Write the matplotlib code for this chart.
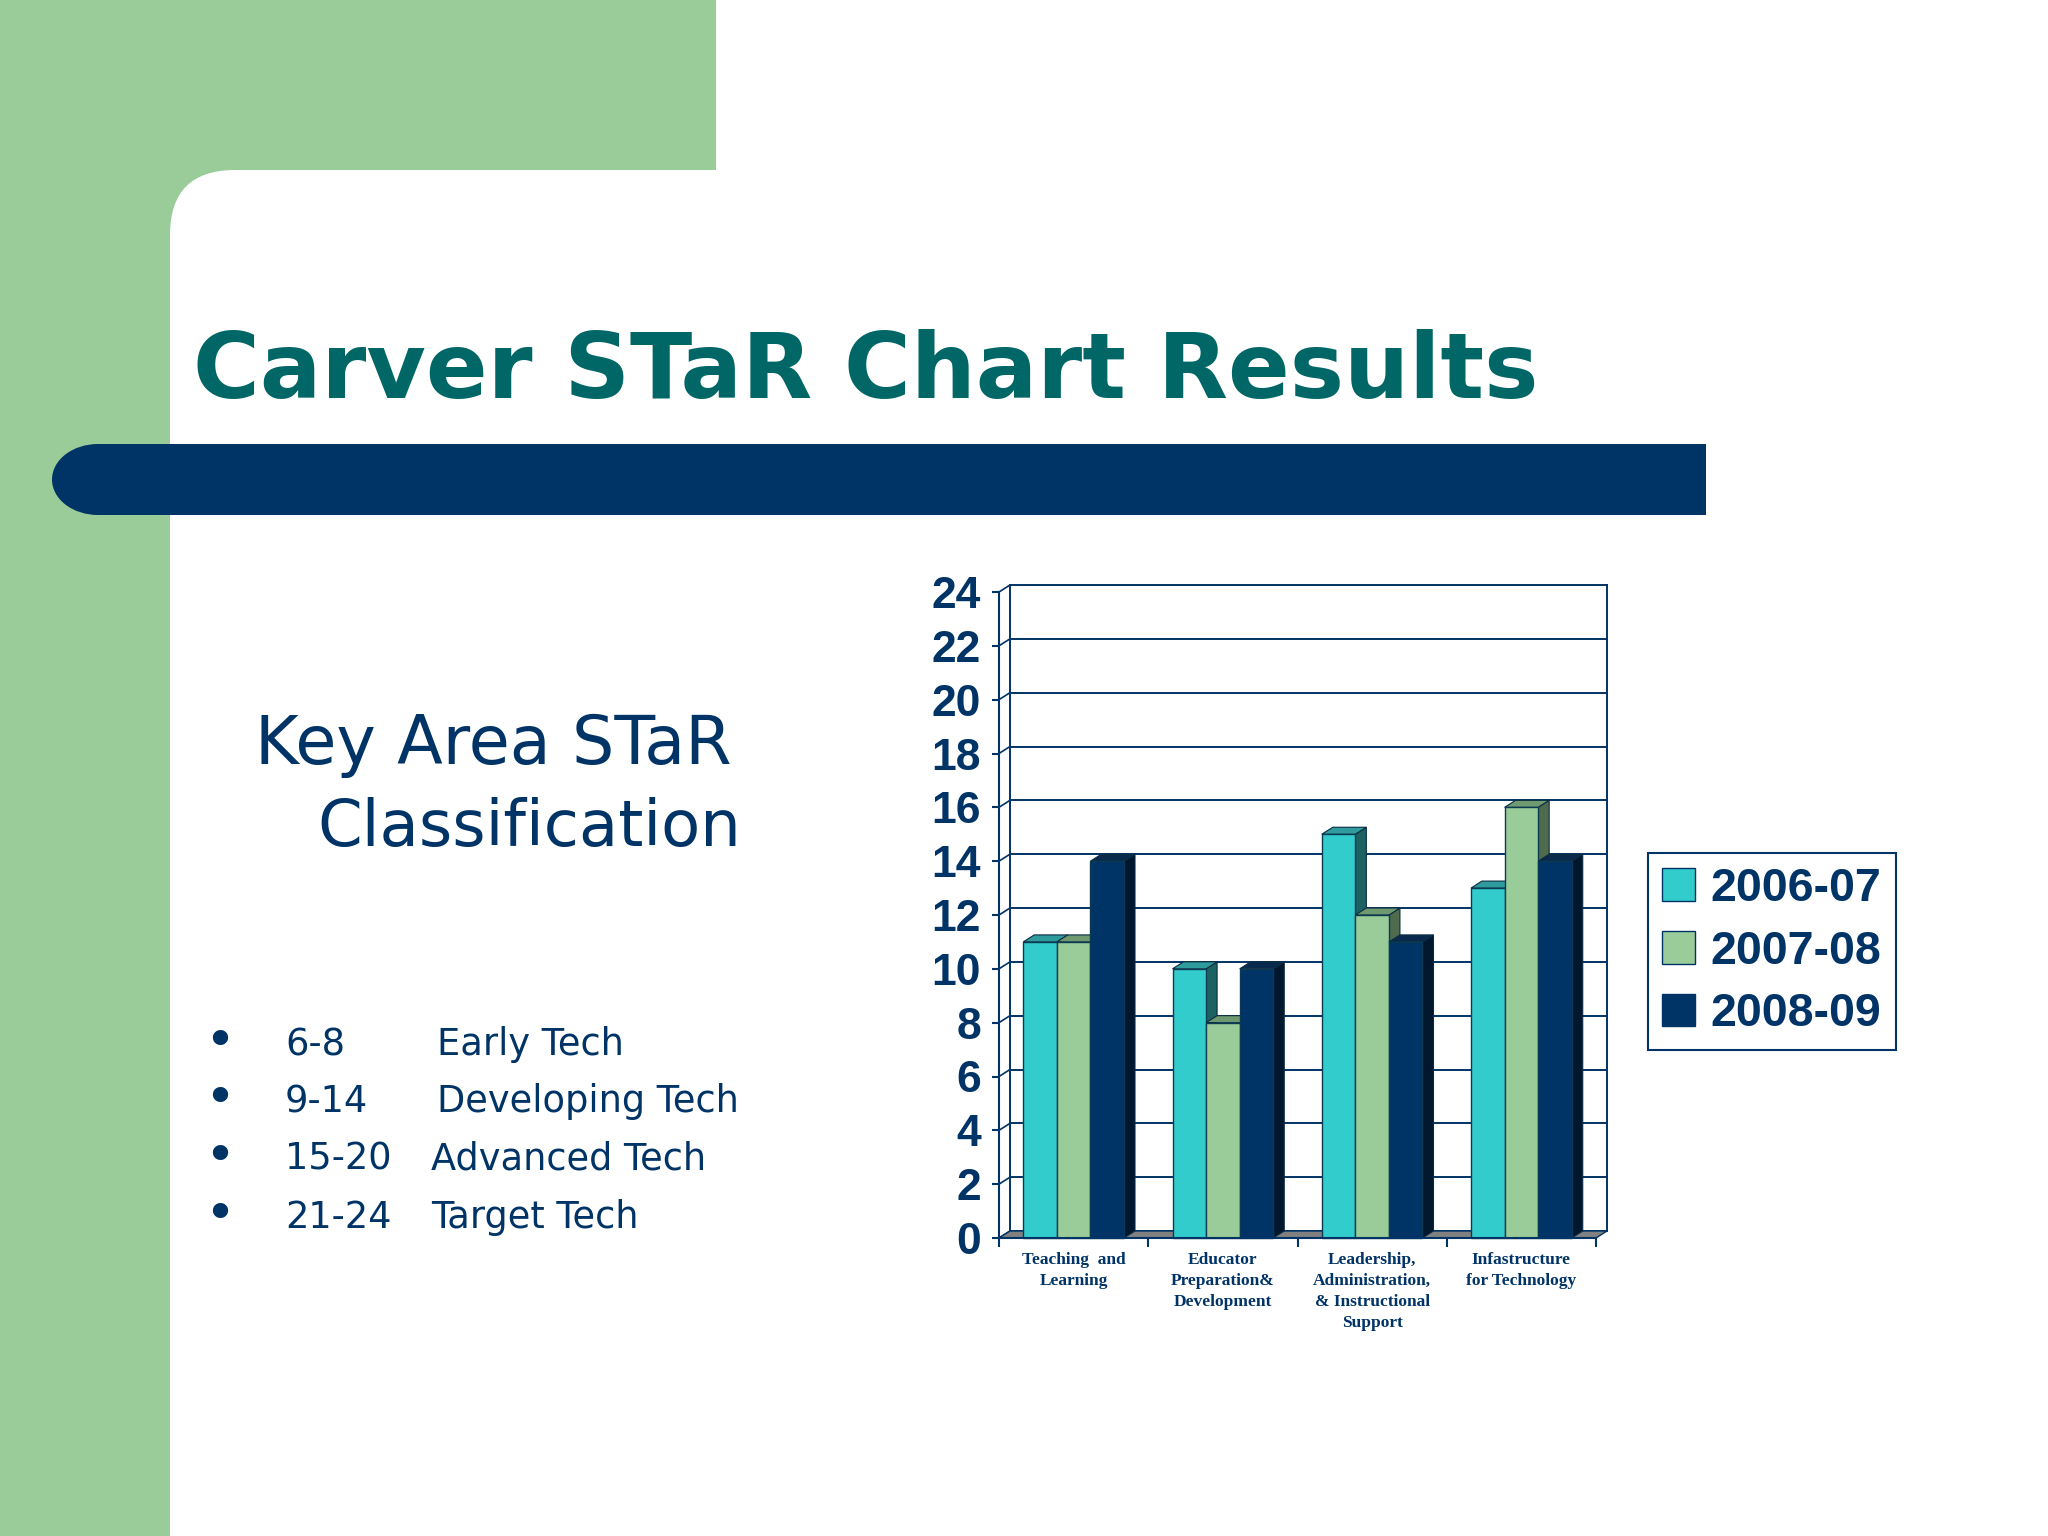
import matplotlib
matplotlib.use("Agg")
import matplotlib.pyplot as plt
from matplotlib.patches import Rectangle, FancyBboxPatch, Ellipse, Polygon, Patch

# chart data
categories = ["Teaching  and\nLearning",
              "Educator\nPreparation&\nDevelopment",
              "Leadership,\nAdministration,\n& Instructional\nSupport",
              "Infastructure\nfor Technology"]
years = ["2006-07", "2007-08", "2008-09"]
scores_0607 = [11, 10, 15, 13]
scores_0708 = [11, 8, 12, 16]
scores_0809 = [14, 10, 11, 14]
y_ticks = list(range(0, 25, 2))

# slide text
title = "Carver STaR Chart Results"
key_lines = ["Key Area STaR", "Classification"]
bullet_ranges = ["6-8", "9-14", "15-20", "21-24"]
bullet_names = ["Early Tech", "Developing Tech", "Advanced Tech", "Target Tech"]

NAVY = "#003366"
TEAL = "#006666"
GREEN = "#99CC99"
CYAN = "#33CCCC"
front_cols = [CYAN, GREEN, NAVY]
top_cols = ["#2E9C9C", "#6F9A6F", "#0A2A4D"]
side_cols = ["#1C6262", "#4E6B4E", "#00172E"]

plt.rcParams['font.family'] = ['DejaVu Sans']

W, H = 2048, 1536
fig = plt.figure(figsize=(W / 100, H / 100), dpi=100)
renderer = fig.canvas.get_renderer()


def fit(t, width):
    w = t.get_window_extent(renderer).width
    t.set_fontsize(t.get_fontsize() * width / w)


# slide background in pixel coordinates
bg = fig.add_axes([0, 0, 1, 1])
bg.set_xlim(0, W)
bg.set_ylim(H, 0)
bg.axis('off')
bg.add_patch(Rectangle((0, 0), 716, 300, color=GREEN, lw=0))
bg.add_patch(Rectangle((0, 0), 170, H, color=GREEN, lw=0))
bg.add_patch(FancyBboxPatch((170, 170), 2100, 1600,
                            boxstyle="round,pad=0,rounding_size=65",
                            fc='white', ec='none'))
bg.add_patch(Ellipse((98, 479.5), 92, 71, color=NAVY, lw=0))
bg.add_patch(Rectangle((98, 444), 1608, 71, color=NAVY, lw=0))

t = bg.text(193, 398, title, fontsize=60, fontweight='bold', color=TEAL,
            va='baseline', ha='left')
fit(t, 1348)

t1 = bg.text(255, 764, key_lines[0], fontsize=42, color=NAVY, va='baseline')
fit(t1, 477)
t2 = bg.text(317, 846, key_lines[1], fontsize=42, color=NAVY, va='baseline')
fit(t2, 424)

for k, (rng, name) in enumerate(zip(bullet_ranges, bullet_names)):
    yb = 1055 + k * 57.5
    bg.text(204, yb + 2, "\u2022", fontsize=38, color=NAVY, va='baseline')
    bg.text(285, yb, rng, fontsize=26.5, color=NAVY, va='baseline')
    bg.text(437 if k < 2 else 431, yb, name, fontsize=26.5, color=NAVY,
            va='baseline')

# 3d-looking column chart
ax = fig.add_axes([999 / W, 1 - 1238 / H, 597 / W, 646 / H])
ax.set_xlim(0, 4)
ax.set_ylim(0, 24)
ax.patch.set_visible(False)
dx = 11 / (597 / 4)
dy = 7 / (646 / 24)

# back wall, side wall links and floor
for v in y_ticks:
    ax.plot([dx, 4 + dx], [v + dy, v + dy], color=NAVY, lw=1.4,
            zorder=1, clip_on=False)
    ax.plot([0, dx], [v, v + dy], color=NAVY, lw=1.2, zorder=1, clip_on=False)
ax.plot([dx, dx], [dy, 24 + dy], color=NAVY, lw=1.4, zorder=1, clip_on=False)
ax.plot([4 + dx, 4 + dx], [dy, 24 + dy], color=NAVY, lw=1.4, zorder=1,
        clip_on=False)
ax.add_patch(Polygon([(0, 0), (4, 0), (4 + dx, dy), (dx, dy)],
                     closed=True, fc='#808080', ec=NAVY, lw=1, zorder=2,
                     clip_on=False))

series = [scores_0607, scores_0708, scores_0809]
bw = 0.225
for i in range(len(categories)):
    for j, vals in enumerate(series):
        h = vals[i]
        x0 = i + 0.5 + (j - 1) * bw
        l, r = x0 - bw / 2, x0 + bw / 2
        z = 3 + (i * 3 + j) * 0.01
        ax.add_patch(Polygon([(r, 0), (r + dx, dy), (r + dx, h + dy), (r, h)],
                             closed=True, fc=side_cols[j], ec='#0B2C44',
                             lw=0.8, zorder=z, clip_on=False))
        ax.add_patch(Polygon([(l, h), (r, h), (r + dx, h + dy), (l + dx, h + dy)],
                             closed=True, fc=top_cols[j], ec='#0B2C44',
                             lw=0.8, zorder=z, clip_on=False))
        ax.bar(x0, h, bw, color=front_cols[j], edgecolor='#0B3A55', lw=1,
               zorder=z + 0.005, clip_on=False)

for s in ['top', 'right']:
    ax.spines[s].set_visible(False)
for s in ['left', 'bottom']:
    ax.spines[s].set_color(NAVY)
    ax.spines[s].set_linewidth(1.5)
    ax.spines[s].set_zorder(4)

ax.set_yticks(y_ticks)
ax.set_yticklabels([str(v) for v in y_ticks], fontsize=32, fontweight='bold',
                   family='Liberation Sans', color=NAVY)
ax.tick_params(axis='y', length=5, width=1.5, color=NAVY, pad=8)
ax.set_xticks(range(len(categories) + 1))
ax.set_xticklabels([])
ax.tick_params(axis='x', length=6.5, width=1.5, color=NAVY)

for i, cat in enumerate(categories):
    ax.annotate(cat, xy=(i + 0.5, 0), xytext=(0, -10),
                textcoords='offset points', ha='center', va='top',
                fontsize=12.5, fontweight='bold', family='Liberation Serif',
                color=NAVY, linespacing=1.42)

handles = [Patch(fc=c, ec=NAVY, lw=1) for c in front_cols]
leg = fig.legend(handles, years, loc='upper left',
                 bbox_to_anchor=(1648 / W, 1 - 853 / H),
                 prop=dict(family='Liberation Sans', weight='bold', size=33.5),
                 labelcolor=NAVY, frameon=True, fancybox=False,
                 edgecolor=NAVY, framealpha=1, handlelength=0.7,
                 handleheight=0.7, handletextpad=0.35, labelspacing=0.4,
                 borderpad=0.3, borderaxespad=0)
leg.get_frame().set_linewidth(1.5)

fig.savefig("out.png", dpi=100)
